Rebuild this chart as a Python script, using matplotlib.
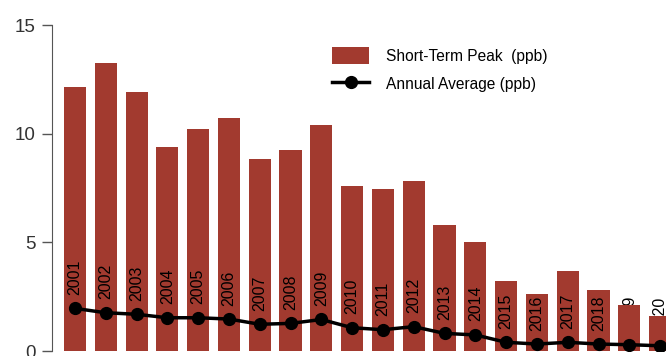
import numpy as np
import matplotlib
matplotlib.use("Agg")
import matplotlib.pyplot as plt

plt.rcParams['font.family'] = ['Liberation Sans', 'DejaVu Sans']

##### Data #####

years = list(range(2001, 2021))
peak = [12.15, 13.25, 11.9, 9.4, 10.2, 10.7, 8.85, 9.25, 10.4, 7.6,
        7.45, 7.8, 5.8, 5.0, 3.2, 2.6, 3.7, 2.8, 2.1, 1.6]          # ppb
annual = [1.96, 1.76, 1.69, 1.53, 1.53, 1.47, 1.23, 1.27, 1.45, 1.07,
          0.98, 1.12, 0.81, 0.74, 0.40, 0.32, 0.40, 0.32, 0.29, 0.24]  # ppb
yticks = [0, 5, 10, 15]

bar_col = '#A23A2F'

##### Plot #####

W, H = 666, 356
fig = plt.figure(figsize=(W/100, H/100), dpi=100)
ax = fig.add_axes([52/W, 5/H, 1 - 52/W, (351-25)/H])

x = np.arange(1, len(years)+1)
bars = ax.bar(x, peak, width=0.72, color=bar_col, zorder=2, label='Short-Term Peak  (ppb)')
line, = ax.plot(x, annual, color='black', lw=2.5, marker='o', ms=8.5, zorder=4,
                label='Annual Average (ppb)')

# year labels sitting just above the annual average points
for xi, yr, a in zip(x, years, annual):
    z = 1 if yr >= 2019 else 3   # last two end up mostly behind their bars
    ax.text(xi, a + 0.62, str(yr), rotation=90, ha='center', va='bottom',
            fontsize=11.5, color='black', zorder=z)

ax.set_xlim(0.253, 20.19)
ax.set_ylim(0, 15)
ax.set_yticks(yticks)
ax.set_xticks([])
for s in ['top', 'right', 'bottom']:
    ax.spines[s].set_visible(False)
ax.spines['left'].set_color('#555555')
ax.tick_params(axis='y', length=7, width=1, color='#555555', labelsize=13.5,
               labelcolor='#333333', pad=5)

ax.legend([bars, line], ['Short-Term Peak  (ppb)', 'Annual Average (ppb)'],
          loc='upper left', bbox_to_anchor=(318/W, 1 - 33/H),
          bbox_transform=fig.transFigure, frameon=False, fontsize=11.2,
          handlelength=2.4, handleheight=1.3, labelspacing=0.7, handletextpad=1.1)

fig.savefig('out.png', dpi=100)
